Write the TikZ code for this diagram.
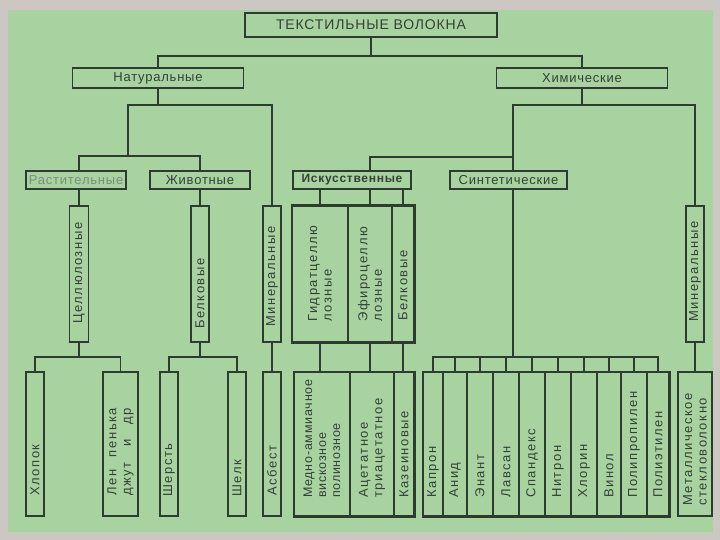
\documentclass[tikz,border=0pt]{standalone}
\usepackage{fontspec}
\setmainfont{Liberation Sans}
\newfontfamily\tf[LetterSpace=6]{Liberation Sans}
\newfontfamily\vf[LetterSpace=12]{Liberation Sans}
\definecolor{bg}{RGB}{168,211,161}
\definecolor{frame}{RGB}{204,199,195}
\definecolor{ink}{RGB}{44,60,46}
\definecolor{txt}{RGB}{52,64,54}
\definecolor{faint}{RGB}{125,140,126}
\begin{document}
\begin{tikzpicture}[x=1pt,y=-1pt,
  hbox/.style={draw=ink, line width=1.8pt, inner sep=0pt, text=txt, font=\tf\fontsize{13}{14}\selectfont},
  vbox/.style={draw=ink, line width=1.8pt, inner sep=0pt, minimum width=18pt},
  cellbox/.style={draw=ink, line width=1.2pt, inner sep=0pt},
  vtxt/.style={rotate=90, anchor=west, inner sep=0pt, text=txt, align=left, font=\vf\fontsize{13}{14.5}\selectfont},
  con/.style={draw=ink, line width=1.4pt}]
\fill[frame] (0,0) rectangle (720,540);
\fill[bg] (8,10) rectangle (713,532);
\useasboundingbox (0,0) rectangle (720,540);

% level 1-2
\node[hbox, minimum width=252pt, minimum height=24pt, line width=2.2pt, font=\tf\fontsize{14}{14}\selectfont] (title) at (371,25) {ТЕКСТИЛЬНЫЕ ВОЛОКНА};
\node[hbox, minimum width=171pt, minimum height=20pt] (nat) at (158,78) {Натуральные};
\node[hbox, minimum width=171pt, minimum height=20pt] (chem) at (582,78) {Химические};
% level 3
\node[hbox, minimum width=100pt, minimum height=18pt, text=faint] (rast) at (76,180) {Растительные};
\node[hbox, minimum width=100pt, minimum height=18pt] (zhiv) at (200,180) {Животные};
\node[hbox, minimum width=118pt, minimum height=18pt, font=\tf\bfseries\fontsize{12}{14}\selectfont] (isk) at (352,180) {Искусственные};
\node[hbox, minimum width=117pt, minimum height=18pt] (sint) at (508.5,180) {Синтетические};

% level 4 (vertical boxes)
\node[vbox, minimum width=19pt, minimum height=136pt] (cell) at (79,274) {};
\node[vtxt] (cellT) at (79,324) {Целлюлозные};
\node[vbox, minimum height=136pt] (belk) at (200,274) {};
\node[vtxt] (belkT) at (200,329) {Белковые};
\node[vbox, minimum height=136pt] (minN) at (272,274) {};
\node[vtxt] (minNT) at (272,327) {Минеральные};
\node[cellbox, minimum width=56pt, minimum height=136pt] (gidr) at (320,274) {};
\node[cellbox, minimum width=44pt, minimum height=136pt] (efir) at (370,274) {};
\node[cellbox, minimum width=22pt, minimum height=136pt] (belkA) at (403,274) {};
\draw[ink, line width=1.8pt] (gidr.north west) rectangle (belkA.south east);
\node[vtxt] (gidrT) at (320,322) {Гидратцеллю\\лозные};
\node[vtxt] (efirT) at (370,322) {Эфироцеллю\\лозные};
\node[vtxt] (belkAT) at (403,321) {Белковые};
\node[vbox, minimum height=136pt] (minC) at (695,274) {};
\node[vtxt] (minCT) at (695,322) {Минеральные};

% level 5
\node[vbox, minimum height=144pt] (hlop) at (35,444) {};
\node[vtxt] (hlopT) at (35,496) {Хлопок};
\node[vbox, minimum width=35pt, minimum height=144pt] (len) at (120.5,444) {};
\node[vtxt] (lenT) at (120.5,496) {\makebox[88pt][s]{Лен пенька}\\\makebox[88pt][s]{джут и др}};
\node[vbox, minimum height=144pt] (sher) at (169,444) {};
\node[vtxt] (sherT) at (169,497) {Шерсть};
\node[vbox, minimum height=144pt] (shelk) at (237,444) {};
\node[vtxt] (shelkT) at (237,497) {Шелк};
\node[vbox, minimum height=144pt] (asb) at (272,444) {};
\node[vtxt] (asbT) at (272,496) {Асбест};

\node[cellbox, minimum width=56pt, minimum height=144pt] (medno) at (322,444) {};
\node[cellbox, minimum width=44pt, minimum height=144pt] (acet) at (372,444) {};
\node[cellbox, minimum width=20pt, minimum height=144pt] (kaz) at (404,444) {};
\draw[ink, line width=1.8pt] (medno.north west) rectangle (kaz.south east);
\node[vtxt, font=\tf\fontsize{12.5}{14}\selectfont] (mednoT) at (322,498) {Медно-аммиачное\\вискозное\\полинозное};
\node[vtxt] (acetT) at (372,498) {Ацетатное\\триацетатное};
\node[vtxt] (kazT) at (404,498) {Казеиновые};

\foreach \n/\l/\r/\t in {kapr/423/443/Капрон, anid/443/467/Анид, enant/467/493/Энант,
  lavs/493/519/Лавсан, spand/519/545/Спандекс, nitr/545/571/Нитрон, hlor/571/597/Хлорин,
  vinol/597/621/Винол, polipr/621/647/Полипропилен, polie/647/669/Полиэтилен}{
  \node[cellbox, minimum width={(\r-\l)*1pt}, minimum height=144pt] (\n) at ({(\l+\r)/2},444) {};
  \node[vtxt] (\n T) at ({(\l+\r)/2},498) {\t};
}
\draw[ink, line width=1.8pt] (kapr.north west) rectangle (polie.south east);

\node[vbox, minimum width=34pt, minimum height=144pt] (met) at (695,444) {};
\node[vtxt] (metT) at (695,506) {Металлическое\\стекловолокно};

% connectors
\coordinate (j0) at (371,56);
\draw[con] (title.south) -- (j0);
\draw[con] (nat.north) |- (j0) -| (chem.north);

\coordinate (j1) at (158,105);
\coordinate (j1a) at (128,105);
\coordinate (j2) at (128,156);
\draw[con] (nat.south) -- (j1);
\draw[con] (minN.north) |- (j1a) -- (j2);
\draw[con] (cell.north |- rast.north) |- (j2) -| (zhiv.north);
\draw[con] (rast.south -| cell.north) -- (cell.north);
\draw[con] (zhiv.south) -- (belk.north);

\coordinate (k1) at (582,105);
\coordinate (k2) at (513,105);
\coordinate (k3) at (513,157);
\draw[con] (chem.south) -- (k1);
\draw[con] (minC.north) |- (k2) -- (k2 |- sint.north);
\draw[con] (k3) -| (efir.north |- isk.north);
\draw[con] (gidr.north) -- (gidr.north |- isk.south);
\draw[con] (efir.north) -- (efir.north |- isk.south);
\draw[con] (belkA.north) -- (belkA.north |- isk.south);

\coordinate (k4) at (513,357);
\draw[con] (k2 |- sint.south) -- (k4);
\draw[con] (kapr.north) |- (polie.north |- k4) -- (polie.north);
\foreach \n in {anid,enant,lavs,spand,nitr,hlor,vinol,polipr}
  \draw[con] (\n.north) -- (\n.north |- k4);

\coordinate (c1) at (79,357);
\coordinate (c2) at (200,357);
\draw[con] (cell.south) -- (c1);
\draw[con] (hlop.north) |- (c1) -| (len.north);
\draw[con] (belk.south) -- (c2);
\draw[con] (sher.north) |- (c2) -| (shelk.north);
\draw[con] (minN.south) -- (asb.north);
\draw[con] (gidr.south) -- (gidr.south |- medno.north);
\draw[con] (efir.south) -- (efir.south |- acet.north);
\draw[con] (belkA.south) -- (belkA.south |- kaz.north);
\draw[con] (minC.south) -- (met.north);
\end{tikzpicture}
\end{document}
